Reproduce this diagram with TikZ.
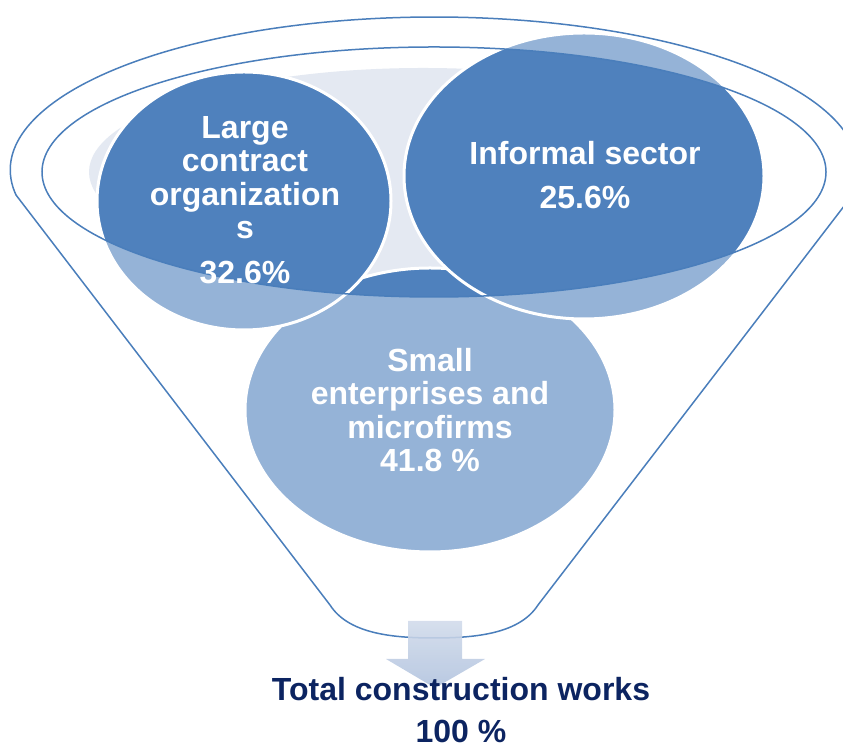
\documentclass[tikz,border=0pt]{standalone}
\usepackage{fontspec}
\setmainfont{Liberation Sans}
\definecolor{darkblob}{HTML}{4F81BD}
\definecolor{lightblob}{HTML}{95B3D7}
\definecolor{mouthfill}{HTML}{E4E9F2}
\definecolor{rimline}{HTML}{4A7EBB}
\definecolor{navytext}{HTML}{0C2461}
\definecolor{arrowtop}{HTML}{D0DAEA}
\definecolor{arrowbottom}{HTML}{AFC1DD}

\begin{document}
\begin{tikzpicture}[x=1pt,y=1pt]
\tikzset{font=\fontsize{32}{33.5}\selectfont\bfseries}
\tikzset{blob/.style={draw=white, line width=3pt}}
\tikzset{blobtext/.style={text=white, align=center, inner sep=0pt}}
\tikzset{rim/.style={draw=rimline, line width=1.5pt}}
\tikzset{totaltext/.style={text=navytext, align=center, inner sep=0pt}}
\useasboundingbox (0,0) rectangle (843,751);

% parts of the circles below the mouth
\foreach \cx/\cy/\rx/\ry in {430/341/185/142, 244/550/147/129, 584/575/180/143}
  \path[blob, fill=lightblob] (\cx,\cy) ellipse [x radius=\rx, y radius=\ry];

% parts of the circles inside the mouth
\begin{scope}
\clip (434,579) ellipse [x radius=392, y radius=125];
\fill[white] (434,579) ellipse [x radius=392, y radius=125];
\fill[mouthfill] (423,579) ellipse [x radius=334, y radius=104];
\foreach \cx/\cy/\rx/\ry in {430/341/185/142, 244/550/147/129, 584/575/180/143}
  \path[blob, fill=darkblob] (\cx,\cy) ellipse [x radius=\rx, y radius=\ry];
\end{scope}

% funnel
\draw[rim] (434,579) ellipse [x radius=392, y radius=125];
\draw[rim, line join=round] (330,146) -- (16,556)
  arc [start angle=189.4, end angle=-9.4, x radius=424, y radius=153]
  -- (538,146) .. controls (520,118) and (478,113) .. (434,113)
  .. controls (390,113) and (348,118) .. (330,146);

% arrow out of the funnel
\shade[top color=arrowtop, bottom color=arrowbottom, opacity=0.88]
  (408,130) -- (462,130) -- (462,92) -- (485,92) -- (435,63) -- (386,92) -- (408,92) -- cycle;

\node[blobtext] (large) at (245,551) {Large\\contract\\organization\\s\\[11pt]32.6\%};
\node[blobtext] (informal) at (585,576) {Informal sector\\[11pt]25.6\%};
\node[blobtext] (small) at (430,341) {Small\\enterprises and\\microfirms\\41.8 \%};
\node[totaltext] (total) at (461,41) {Total construction works\\[9pt]100 \%};
\end{tikzpicture}
\end{document}
